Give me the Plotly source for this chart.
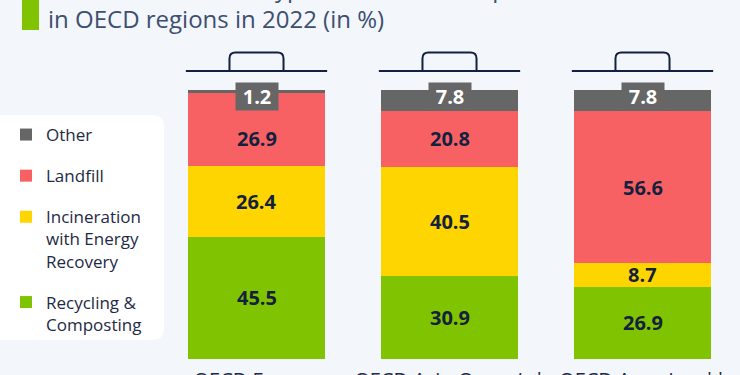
import plotly.graph_objects as go

# ---- data ----
categories = ["OECD Europe", "OECD Asia-Oceania*", "OECD Americas**"]
recycling = [45.5, 30.9, 26.9]
incineration = [26.4, 40.5, 8.7]
landfill = [26.9, 20.8, 56.6]
other = [1.2, 7.8, 7.8]

series = [
    ("Recycling &<br>Composting", recycling, "#80c300", 4),
    ("Incineration<br>with Energy<br>Recovery", incineration, "#ffd500", 3),
    ("Landfill", landfill, "#f86163", 2),
    ("Other", other, "#666666", 1),
]

BG = "#f3f6fa"
NAVY = "#13213f"
TEXT = "#1e2a44"
FONT = "Open Sans"

# layout geometry (pixels)
W, H = 740, 375
L, R, T, B = 160, 1, 23, 16
PW, PH = W - L - R, H - T - B
YMAX = 124.9

def px_x(px):
    return (px - L) / PW

def px_y(py):
    return (H - B - py) / PH

xs = list(range(len(categories)))
fig = go.Figure()

for name, vals, col, rank in series:
    fig.add_trace(go.Bar(
        x=xs, y=vals, name=name, marker=dict(color=col, line=dict(width=0)),
        width=0.71, legendgroup=name, legendrank=rank, hoverinfo="skip",
    ))

# value labels
annotations = []
box_bottom = 92.4  # data units: bottom of the "Other" label badge
for i in xs:
    base = 0.0
    for name, vals, col, rank in series:
        v = vals[i]
        lo, hi = base, base + v
        if name == "Other":
            annotations.append(dict(
                x=i, y=100, xref="x", yref="y", text=f"<b>{v}</b>",
                showarrow=False, yshift=-7, font=dict(family=FONT, size=20, color="white"),
                bgcolor="#666666", width=40, height=25, borderpad=1, align="center",
            ))
        else:
            mid = (lo + min(hi, box_bottom)) / 2
            annotations.append(dict(
                x=i, y=mid, xref="x", yref="y", text=f"<b>{v}</b>",
                showarrow=False, font=dict(family=FONT, size=20, color=NAVY),
            ))
        base = hi

# title
annotations.append(dict(
    x=px_x(46), y=px_y(37), xref="paper", yref="paper", xanchor="left", yanchor="bottom",
    text="Share of treatment types in total municipal waste<br>in OECD regions in 2022 (in %)",
    showarrow=False, align="left", font=dict(family=FONT, size=24, color="#3d5070"),
))

shapes = []
# title accent bar
shapes.append(dict(type="rect", xref="paper", yref="paper",
                   x0=px_x(22), x1=px_x(39), y0=px_y(30), y1=px_y(-10),
                   fillcolor="#80c300", line=dict(width=0), layer="below"))

# legend background (rounded white panel)
x0, x1 = px_x(-12), px_x(164)
y0, y1 = px_y(340), px_y(115)
rx, ry = 12 / PW, 12 / PH
path = (f"M{x0},{y1} L{x1 - rx},{y1} Q{x1},{y1} {x1},{y1 - ry} "
        f"L{x1},{y0 + ry} Q{x1},{y0} {x1 - rx},{y0} L{x0},{y0} Z")
shapes.append(dict(type="path", xref="paper", yref="paper", path=path,
                   fillcolor="white", line=dict(width=0), layer="below"))

# bin lids with handles
lid_y, handle_top = 107.1, 113.9
lid_hw, handle_hw = 0.366, 0.14
crx, cry = 0.031, 2.2
for i in xs:
    shapes.append(dict(type="line", xref="x", yref="y",
                       x0=i - lid_hw, x1=i + lid_hw, y0=lid_y, y1=lid_y,
                       line=dict(color=NAVY, width=2)))
    a, b = i - handle_hw, i + handle_hw
    p = (f"M{a},{lid_y} L{a},{handle_top - cry} Q{a},{handle_top} {a + crx},{handle_top} "
         f"L{b - crx},{handle_top} Q{b},{handle_top} {b},{handle_top - cry} L{b},{lid_y}")
    shapes.append(dict(type="path", xref="x", yref="y", path=p,
                       line=dict(color=NAVY, width=2)))

fig.update_layout(
    width=W, height=H,
    margin=dict(l=L, r=R, t=T, b=B, pad=0, autoexpand=False),
    paper_bgcolor=BG, plot_bgcolor=BG,
    barmode="stack", bargap=0,
    font=dict(family=FONT, color=TEXT),
    showlegend=True,
    legend=dict(
        x=px_x(6), y=px_y(117), xanchor="left", yanchor="top",
        bgcolor="rgba(0,0,0,0)", font=dict(family=FONT, size=17, color=TEXT),
        traceorder="grouped", tracegroupgap=16, valign="top",
        itemclick=False, itemdoubleclick=False,
    ),
    xaxis=dict(range=[-0.5, 2.5], tickvals=xs, ticktext=categories, automargin=False,
               showgrid=False, zeroline=False, showline=False, ticks="",
               ticklabelstandoff=7,
               tickfont=dict(family=FONT, size=20, color=TEXT), fixedrange=True),
    yaxis=dict(range=[0, YMAX], showgrid=False, zeroline=False, showline=False, automargin=False,
               showticklabels=False, ticks="", fixedrange=True),
    annotations=annotations,
    shapes=shapes,
)

fig.write_html(
    "out.html",
    config={"displayModeBar": False},
    post_script="document.body.style.margin='0';document.body.style.background='%s';" % BG,
)
